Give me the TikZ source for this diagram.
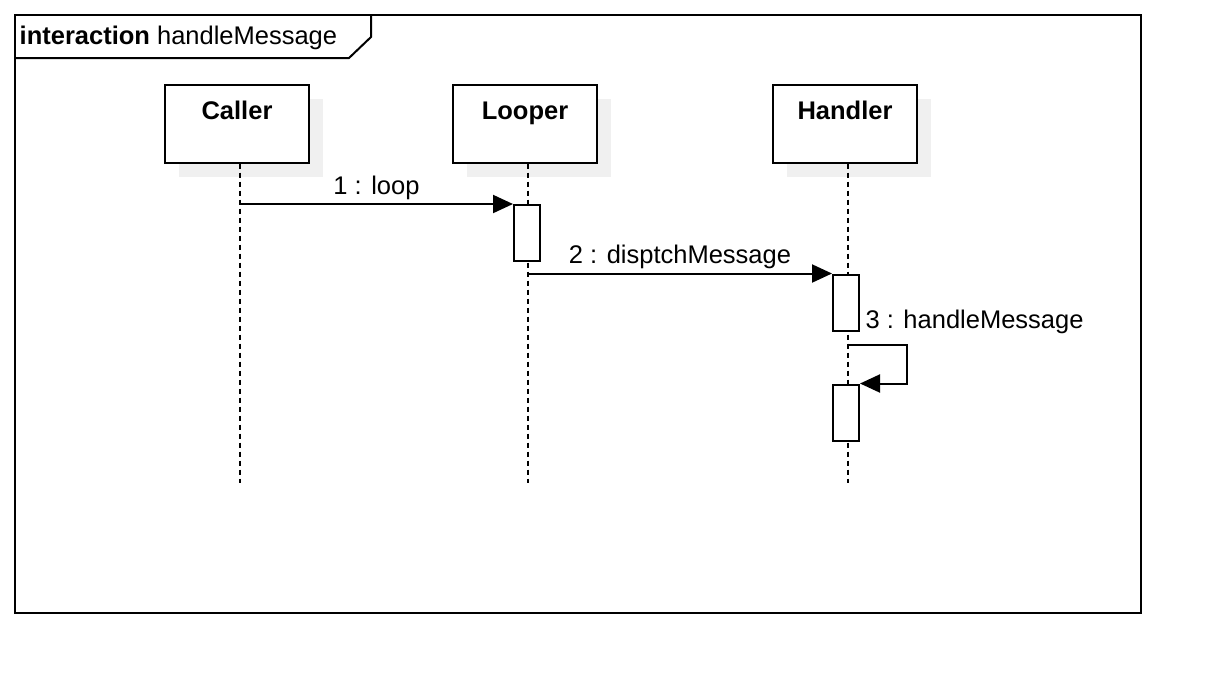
\documentclass[tikz,border=0pt]{standalone}
\usepackage{fontspec}
\setmainfont{Liberation Sans}
\usetikzlibrary{arrows.meta,shadows}

\begin{document}
\begin{tikzpicture}[x=0.5pt,y=-0.5pt,line width=1pt,
  font=\fontsize{12.75}{15}\selectfont,
  obj/.style={draw,fill=white,minimum width=72pt,inner xsep=0pt,inner ysep=0pt,
    text height=17.5pt,text depth=21.5pt,font=\fontsize{12.75}{15}\selectfont\bfseries,
    drop shadow={shadow xshift=7pt,shadow yshift=-7pt,fill=black!6,opacity=1}},
  act/.style={draw,fill=white,minimum width=13pt,minimum height=28pt,inner sep=0pt},
  life/.style={dash pattern=on 2.5pt off 2pt},
  msg/.style={-{Triangle[length=10pt,width=9pt]}}]
\useasboundingbox(0,0)rectangle(1226,698);
% frame
\draw(15,15)rectangle(1141,613);
\draw(15,58)--(349,58)--(371,37)--(371,15);
\node[anchor=west](title)at(12,38){\textbf{interaction} handleMessage};
% objects
\node[obj](caller)at(237,123.5){Caller};
\node[obj](looper)at(525,123.5){Looper};
\node[obj](handler)at(845,123.5){Handler};
\coordinate(callerEnd)at(240,483);
\coordinate(looperEnd)at(528,483);
\coordinate(handlerEnd)at(848,483);
\draw[life](caller.south-|callerEnd)--(callerEnd);
\draw[life](looper.south-|looperEnd)--(looperEnd);
\draw[life](handler.south-|handlerEnd)--(handlerEnd);
% activations
\node[act](act1)at(527,233){};
\node[act](act2)at(846,302.5){};
\node[act](act3)at(846,412.5){};
% messages
\draw[msg](act1.north west-|callerEnd)--(act1.north west)node[midway,above=-1.5pt]{1 : loop};
\draw[msg](act2.north west-|looperEnd)--(act2.north west)node[midway,above=-1.5pt]{2 : disptchMessage};
\coordinate(self)at(907,345);
\draw[msg](self-|handlerEnd)--(self)--(self|-act3.north east)--(act3.north east);
\node[anchor=west](selfLabel)at(858,322){3 : handleMessage};
\end{tikzpicture}
\end{document}
